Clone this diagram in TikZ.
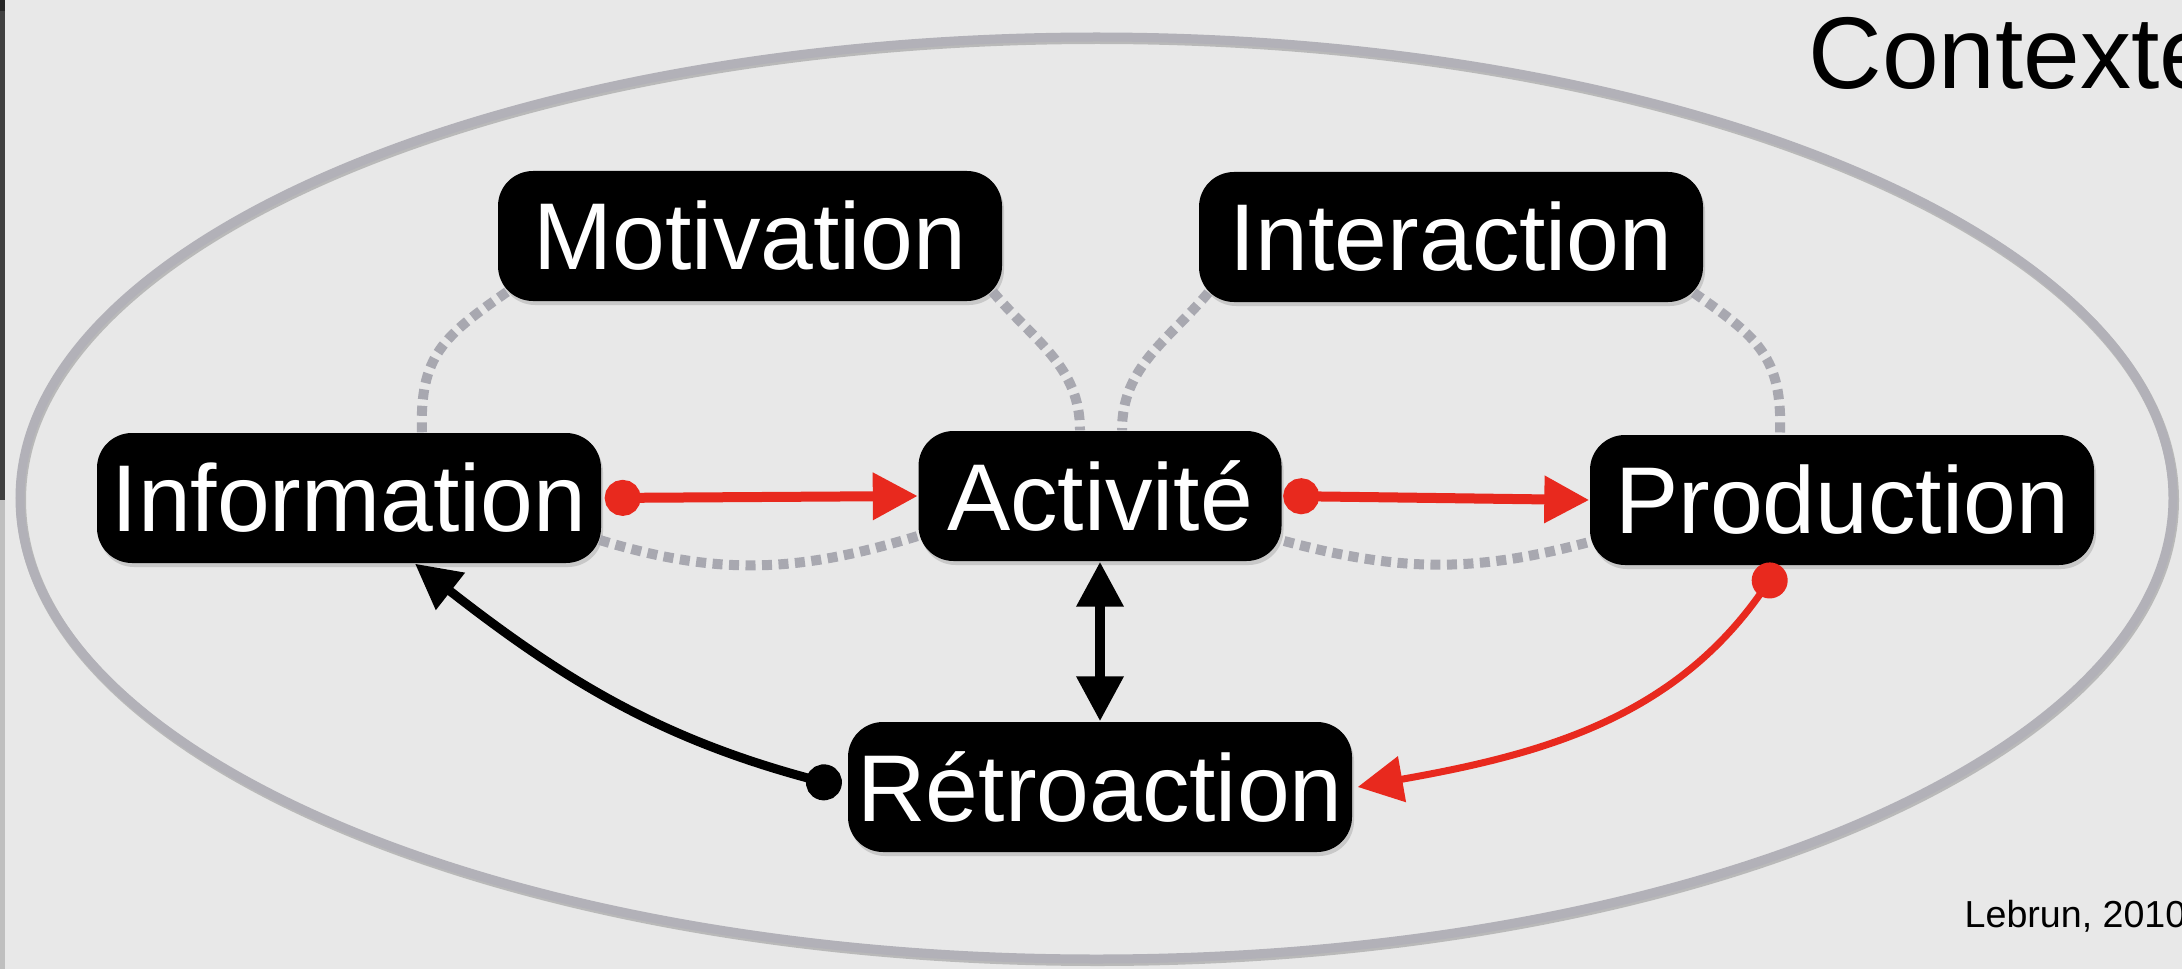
\documentclass[tikz,border=0pt]{standalone}
\usepackage{fontspec}
\setmainfont{Liberation Sans}
\usetikzlibrary{arrows.meta,shadows}

\definecolor{slidebg}{RGB}{232,232,232}
\definecolor{ringgray}{RGB}{178,177,184}
\definecolor{linkgray}{RGB}{168,168,176}
\definecolor{flowred}{RGB}{232,41,30}

\def \BoxW {5.04cm}
\def \BoxH {1.30cm}
\tikzstyle{concept}=[
  fill=black,
  text=white,
  rounded corners=0.35cm,
  minimum width=\BoxW,
  minimum height=\BoxH,
  inner sep=0pt,
  font=\fontsize{27}{32}\selectfont,
  drop shadow={shadow xshift=0.02cm, shadow yshift=-0.04cm, opacity=0.3}
]
\tikzstyle{link}=[
  draw=linkgray,
  line width=0.1cm,
  dash pattern=on 0.1cm off 0.065cm
]
\tikzstyle{flow}=[
  draw=flowred,
  line width=0.1cm,
  {Circle[length=0.36cm]}-{Triangle[length=0.45cm,width=0.45cm]}
]
\tikzstyle{back}=[
  draw=black,
  line width=0.09cm,
  {Circle[length=0.36cm]}-{Triangle[length=0.45cm,width=0.45cm]}
]

\begin{document}
\begin{tikzpicture}
  \def \W {21.82}
  \def \H {9.69}

  \useasboundingbox (0,0) rectangle (\W,\H);
  \fill[slidebg] (0,0) rectangle (\W,\H);
  \fill[black!85] (0,\H-0.11) rectangle (0.05,\H);
  \fill[black!75] (0,\H-5.00) rectangle (0.05,\H-0.11);
  \fill[black!25] (0,0) rectangle (0.05,\H-5.00);

  % context ring
  \draw[black!45, opacity=0.5, line width=0.1cm] (10.975,4.69) ellipse [x radius=10.765cm, y radius=4.61cm];
  \draw[ringgray, line width=0.09cm] (10.965,4.71) ellipse [x radius=10.765cm, y radius=4.61cm];

  \node[anchor=base west, inner sep=0pt, font=\fontsize{29}{34}\selectfont] (ctx) at (18.08,8.81) {Contexte};
  \node[anchor=base west, inner sep=0pt, font=\fontsize{10.7}{13}\selectfont] (src) at (19.64,0.42) {Lebrun, 2010};

  % boxes
  \node[concept] (motiv) at (7.50,7.33) {Motivation};
  \node[concept] (inter) at (14.51,7.32) {Interaction};
  \node[concept] (info) at (3.49,4.71) {Information};
  \node[concept, minimum width=3.63cm] (act) at (11.00,4.73) {Activité};
  \node[concept] (prod) at (18.42,4.69) {Production};
  \node[concept] (retro) at (11.00,1.82) {Rétroaction};

  % dotted links
  \draw[link] ([xshift=0.73cm]info.north) to[out=92, in=215, looseness=1.2] ([shift={(0.1cm,0.1cm)}]motiv.south west);
  \draw[link] ([shift={(-0.1cm,0.1cm)}]motiv.south east) to[out=-50, in=90] ([xshift=-0.2cm]act.north);
  \draw[link] ([shift={(0.1cm,0.1cm)}]inter.south west) to[out=230, in=90] ([xshift=0.22cm]act.north);
  \draw[link] ([shift={(-0.1cm,0.1cm)}]inter.south east) to[out=-35, in=88, looseness=1.2] ([xshift=-0.62cm]prod.north);
  \draw[link] ([shift={(-0.02cm,-0.42cm)}]info.east) to[out=-17, in=197] ([yshift=-0.40cm]act.west);
  \draw[link] ([shift={(0.02cm,-0.45cm)}]act.east) to[out=-15, in=195] ([yshift=-0.42cm]prod.west);

  % flows
  \draw[flow] ([xshift=0.03cm]info.east) -- (act.west);
  \draw[flow] ([xshift=0.01cm]act.east) -- (prod.west);
  \draw[flow, line width=0.07cm] ([xshift=-0.62cm]prod.south) to[out=-125, in=10] ([xshift=0.05cm]retro.east);
  \draw[back] ([xshift=-0.06cm]retro.west) to[out=165, in=-38] ([xshift=0.66cm]info.south);
  \draw[draw=black, line width=0.1cm, {Triangle[length=0.45cm,width=0.45cm]}-{Triangle[length=0.45cm,width=0.45cm]}] (act.south) -- (retro.north);
\end{tikzpicture}
\end{document}
